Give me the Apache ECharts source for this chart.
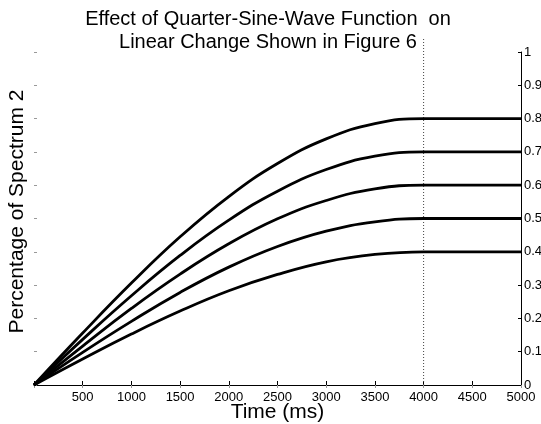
<!DOCTYPE html>
<html>
<head>
<meta charset="utf-8">
<script src="https://cdn.jsdelivr.net/npm/echarts@6/dist/echarts.min.js"></script>
<style>
  html, body { margin: 0; padding: 0; background: #fff; }
  #chart { width: 541px; height: 424px; }
</style>
</head>
<body>
<div id="chart"></div>
<script>
// time points (ms)
var times = [0, 500, 1000, 1500, 2000, 2500, 3000, 3500, 4000, 4500, 5000];

// one per final level
var curve80 = [0, 0.156, 0.306, 0.445, 0.566, 0.665, 0.739, 0.785, 0.8, 0.8, 0.8];
var curve70 = [0, 0.137, 0.268, 0.389, 0.495, 0.582, 0.647, 0.687, 0.7, 0.7, 0.7];
var curve60 = [0, 0.117, 0.230, 0.333, 0.424, 0.499, 0.554, 0.589, 0.6, 0.6, 0.6];
var curve50 = [0, 0.098, 0.191, 0.278, 0.354, 0.416, 0.462, 0.490, 0.5, 0.5, 0.5];
var curve40 = [0, 0.078, 0.153, 0.222, 0.283, 0.332, 0.370, 0.392, 0.4, 0.4, 0.4];

// dotted marker at end of transition
var markerTime = 4000;
var markerSpan = [0, 1.04];

var font = 'Liberation Sans, Arial, sans-serif';

var pairs = function (ys) {
  return times.map(function (t, i) { return [t, ys[i]]; });
};

var makeSeries = function (ys) {
  return {
    type: 'line',
    data: pairs(ys),
    smooth: 0.45,
    showSymbol: false,
    clip: false,
    lineStyle: { color: '#000', width: 2.8 },
    z: 3
  };
};

var myChart = echarts.init(document.getElementById('chart'), null, { renderer: 'canvas' });

var option = {
  animation: false,
  backgroundColor: '#fff',
  title: {
    text: 'Effect of Quarter-Sine-Wave Function  on\nLinear Change Shown in Figure 6',
    left: 263,
    top: 3,
    textAlign: 'center',
    textStyle: { fontFamily: font, fontSize: 20, fontWeight: 'normal', color: '#000', lineHeight: 23 }
  },
  grid: { left: 34, top: 52, width: 487, height: 333, outerBoundsMode: 'none', containLabel: false },
  xAxis: [
    {
      type: 'value',
      min: 0,
      max: 5000,
      interval: 500,
      position: 'bottom',
      name: 'Time (ms)',
      nameLocation: 'middle',
      nameGap: 17,
      nameMoveOverlap: false,
      nameTextStyle: { fontFamily: font, fontSize: 21, color: '#000' },
      axisLine: { show: true, onZero: false, lineStyle: { color: '#000', width: 1 } },
      axisTick: { show: true, inside: true, length: 4, lineStyle: { color: '#000' } },
      axisLabel: {
        fontFamily: font, fontSize: 13, color: '#000', margin: 6,
        formatter: function (v) { return v === 0 ? '' : String(v); }
      },
      splitLine: { show: false }
    },
    {
      type: 'value',
      min: 0,
      max: 5000,
      interval: 500,
      position: 'top',
      axisLine: { show: false },
      axisTick: { show: true, inside: true, length: 3, lineStyle: { color: '#999' } },
      axisLabel: { show: false },
      splitLine: { show: false }
    }
  ],
  yAxis: [
    {
      type: 'value',
      min: 0,
      max: 1,
      interval: 0.1,
      position: 'left',
      name: 'Percentage of Spectrum 2',
      nameLocation: 'middle',
      nameGap: 6,
      nameMoveOverlap: false,
      nameTextStyle: { fontFamily: font, fontSize: 21, color: '#000', padding: [0, 0, 0, 14] },
      axisLine: { show: false, onZero: false },
      axisTick: { show: true, inside: true, length: 3, lineStyle: { color: '#999' } },
      axisLabel: { show: false },
      splitLine: { show: false }
    },
    {
      type: 'value',
      min: 0,
      max: 1,
      interval: 0.1,
      position: 'right',
      axisLine: { show: true, onZero: false, lineStyle: { color: '#000', width: 1 } },
      axisTick: { show: true, inside: true, length: 3, lineStyle: { color: '#000' } },
      axisLabel: { fontFamily: font, fontSize: 13, color: '#000', margin: 3 },
      splitLine: { show: false }
    }
  ],
  series: [
    {
      type: 'line',
      data: markerSpan.map(function (v) { return [markerTime, v]; }),
      showSymbol: false,
      clip: false,
      silent: true,
      lineStyle: { color: '#444', type: [1, 2], width: 1 },
      z: 2
    },
    makeSeries(curve80),
    makeSeries(curve70),
    makeSeries(curve60),
    makeSeries(curve50),
    makeSeries(curve40)
  ]
};

myChart.setOption(option);
</script>
</body>
</html>
